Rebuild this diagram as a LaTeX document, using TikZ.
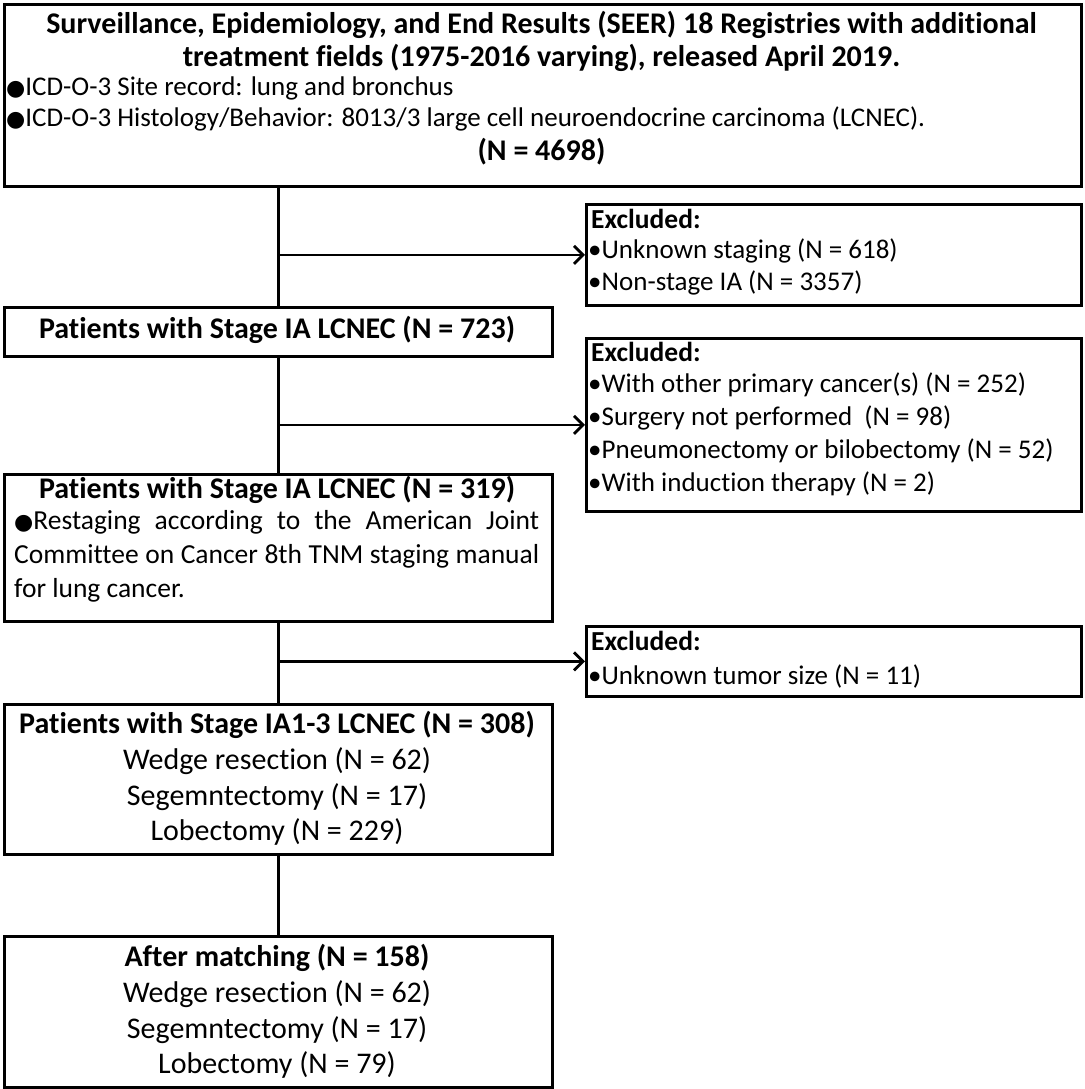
\documentclass[tikz,border=0pt]{standalone}
\usepackage{fontspec}
\setmainfont{Carlito}[Ligatures={NoCommon}]
\newfontfamily\djv{DejaVu Sans}
\usetikzlibrary{arrows.meta}
\newcommand{\bigdot}{{\djv\fontsize{22}{22}\selectfont ●}}
\begin{document}
\begin{tikzpicture}[x=1pt,y=-1pt,
  box/.style={draw, line width=2.8pt, anchor=north west, inner sep=0pt, rectangle},
  conn/.style={line width=2.8pt},
  arr/.style={conn, -{Straight Barb[length=9pt,width=18pt,line width=2.8pt]}},
  txt/.style={inner sep=0pt, font=\fontsize{27}{33}\selectfont},
  extxt/.style={inner sep=0pt, font=\fontsize{27.5}{33}\selectfont\bfseries},
  btxt/.style={inner sep=0pt, font=\fontsize{30}{33}\selectfont\bfseries},
  bigtxt/.style={inner sep=0pt, font=\fontsize{30}{36}\selectfont},
]
\useasboundingbox (0,0) rectangle (1084,1089);
% boxes
\node[box, minimum width=1077pt, minimum height=182pt] (b0) at (3,3) {};
\node[box, minimum width=495pt, minimum height=101pt] (e1) at (585,203) {};
\node[box, minimum width=548pt, minimum height=49pt] (b1) at (3,306) {};
\node[box, minimum width=495pt, minimum height=173pt] (e2) at (585,337) {};
\node[box, minimum width=548pt, minimum height=147pt] (b2) at (3,473) {};
\node[box, minimum width=495pt, minimum height=70pt] (e3) at (585,625) {};
\node[box, minimum width=548pt, minimum height=150pt] (b3) at (3,703) {};
\node[box, minimum width=548pt, minimum height=151pt] (b4) at (3,935) {};
% top box text
\node[btxt] (t0a) at (541.5,25) {Surveillance, Epidemiology, and End Results (SEER) 18 Registries with additional};
\node[btxt] (t0b) at (541.5,58) {treatment fields (1975-2016 varying), released April 2019.};
\node[txt, anchor=west] (t0c) at (6,88) {\bigdot ICD-O-3 Site record: lung and bronchus};
\node[txt, anchor=west] (t0d) at (6,119) {\bigdot ICD-O-3 Histology/Behavior: 8013/3 large cell neuroendocrine carcinoma (LCNEC).};
\node[btxt] (t0e) at (541.5,152) {(N = 4698)};
% excluded 1
\node[extxt, anchor=west] (t1a) at (591,219) {Excluded:};
\node[txt, anchor=west] (t1b) at (588,251) {•Unknown staging (N = 618)};
\node[txt, anchor=west] (t1c) at (588,283) {•Non-stage IA (N = 3357)};
% box 723
\node[btxt] (t2) at (277,330) {Patients with Stage IA LCNEC (N = 723)};
% excluded 2
\node[extxt, anchor=west] (t3a) at (591,352) {Excluded:};
\node[txt, anchor=west] (t3b) at (588,385) {•With other primary cancer(s) (N = 252)};
\node[txt, anchor=west] (t3c) at (588,418) {•Surgery not performed\ \ (N = 98)};
\node[txt, anchor=west] (t3d) at (588,451) {•Pneumonectomy or bilobectomy (N = 52)};
\node[txt, anchor=west] (t3e) at (588,484) {•With induction therapy (N = 2)};
% box 319
\node[btxt] (t4a) at (277,490) {Patients with Stage IA LCNEC (N = 319)};
\node[txt, font=\fontsize{27.5}{34}\selectfont, anchor=north west, text width=525pt, align=justify] (t4b) at (14,510) {\bigdot Restaging according to the American Joint\linebreak Committee on Cancer 8th TNM staging manual\linebreak for lung cancer.};
% excluded 3
\node[extxt, anchor=west] (t5a) at (591,641) {Excluded:};
\node[txt, anchor=west] (t5b) at (588,676) {•Unknown tumor size (N = 11)};
% box 308
\node[btxt] (t6a) at (277,725) {Patients with Stage IA1-3 LCNEC (N = 308)};
\node[bigtxt] (t6b) at (277,761) {Wedge resection (N = 62)};
\node[bigtxt] (t6c) at (277,797) {Segemntectomy (N = 17)};
\node[bigtxt] (t6d) at (277,832) {Lobectomy (N = 229)};
% box 158
\node[btxt] (t7a) at (277,958) {After matching (N = 158)};
\node[bigtxt] (t7b) at (277,994) {Wedge resection (N = 62)};
\node[bigtxt] (t7c) at (277,1030) {Segemntectomy (N = 17)};
\node[bigtxt] (t7d) at (277,1065) {Lobectomy (N = 79)};
% connectors
\draw[conn] (b0.south -| b1.north) -- (b1.north);
\draw[arr] (e1.west -| b1.north) -- (e1.west);
\draw[conn] (b1.south) -- (b2.north);
\draw[arr] (e2.west -| b1.north) -- (e2.west);
\draw[conn] (b2.south) -- (b3.north);
\draw[arr] (e3.west -| b3.north) -- (e3.west);
\draw[conn] (b3.south) -- (b4.north);
\end{tikzpicture}
\end{document}
